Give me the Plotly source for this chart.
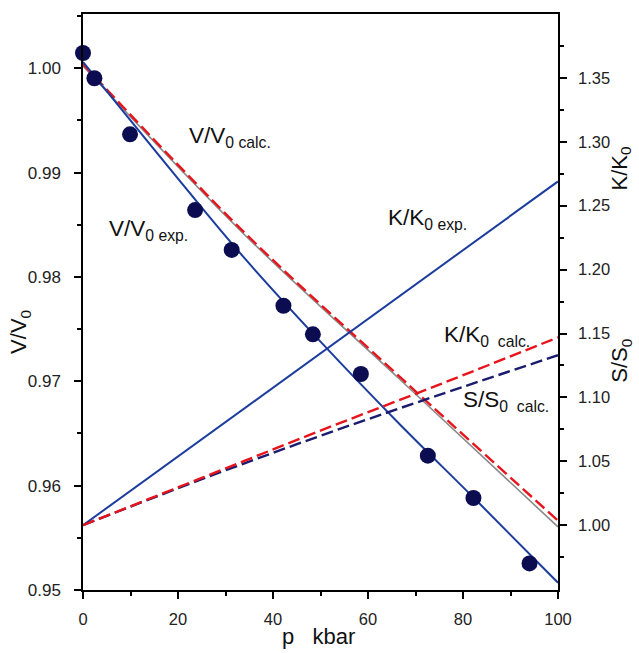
import plotly.graph_objects as go

# Experimental points V/V0 vs p (kbar)
p_exp = [0.0, 2.4, 9.9, 23.6, 31.3, 42.2, 48.4, 58.5, 72.6, 82.2, 94.0]
v_exp = [1.00146, 0.99904, 0.99367, 0.98641, 0.98259, 0.97724, 0.97450, 0.97070, 0.96287, 0.95882, 0.95255]

# Fitted experimental V/V0 curve
p_fit = [0, 24, 34, 50, 66, 83, 100]
v_exp_fit = [1.0006, 0.9872, 0.9818, 0.9738, 0.9662, 0.9585, 0.9507]

# Calculated V/V0 curves
p_vcalc = [0, 34, 67, 100]
v_calc_gray = [1.0002, 0.98405, 0.97005, 0.95605]
v_calc_red = [1.0004, 0.98425, 0.97030, 0.95665]

# K/K0 experimental (right axis)
p_line = [0, 100]
k_exp = [1.000, 1.269]

# K/K0 and S/S0 calculated (right axis)
p_calc = [0, 25, 50, 75, 100]
k_calc = [1.000, 1.037, 1.074, 1.110, 1.147]
s_calc = [1.000, 1.036, 1.070, 1.102, 1.133]

x_ticks = [0, 20, 40, 60, 80, 100]
y_ticks = [0.95, 0.96, 0.97, 0.98, 0.99, 1.00]
y2_ticks = [1.00, 1.05, 1.10, 1.15, 1.20, 1.25, 1.30, 1.35]
y2_minor = [0.975, 1.025, 1.075, 1.125, 1.175, 1.225, 1.275, 1.325, 1.375]

BLUE = "#1c3d9e"
NAVY = "#0c0c50"
RED = "#e8141c"
NAVY_D = "#1b1b70"
GRAY = "#8a8a8a"
FONT = "Liberation Sans, Arial, sans-serif"
DASH = "12px,5px"

fig = go.Figure()
fig.add_trace(go.Scatter(x=p_vcalc, y=v_calc_gray, mode="lines",
                         line=dict(color=GRAY, width=1.6, shape="spline"), yaxis="y"))
fig.add_trace(go.Scatter(x=p_vcalc, y=v_calc_red, mode="lines",
                         line=dict(color=RED, width=2.4, dash=DASH, shape="spline"), yaxis="y"))
fig.add_trace(go.Scatter(x=p_fit, y=v_exp_fit, mode="lines",
                         line=dict(color=BLUE, width=2, shape="spline"), yaxis="y"))
fig.add_trace(go.Scatter(x=p_line, y=k_exp, mode="lines",
                         line=dict(color=BLUE, width=2), yaxis="y2"))
fig.add_trace(go.Scatter(x=p_calc, y=s_calc, mode="lines",
                         line=dict(color=NAVY_D, width=2.4, dash=DASH, shape="spline"), yaxis="y2"))
fig.add_trace(go.Scatter(x=p_calc, y=k_calc, mode="lines",
                         line=dict(color=RED, width=2.4, dash=DASH, shape="spline"), yaxis="y2"))
fig.add_trace(go.Scatter(x=p_exp, y=v_exp, mode="markers",
                         marker=dict(color=NAVY, size=16), yaxis="y", cliponaxis=False))

W, H = 639, 653
L, R, T, B = 83, 558, 12, 590

def px(xp, yp):
    return (xp - L) / (R - L), (B - yp) / (B - T)

annots = []
def lab(text, x, y, size=22.5):
    annots.append(dict(text=text, x=x, y=y, xref="x", yref="y", showarrow=False,
                       xanchor="left", yanchor="middle",
                       font=dict(size=size, color="#111", family=FONT)))

lab("V/V<sub>0 calc.</sub>", 21.8, 0.99342)
lab("V/V<sub>0 exp.</sub>", 5.0, 0.98454)
lab("K/K<sub>0 exp.</sub>", 63.8, 0.98559)
lab("K/K<sub>0&nbsp; calc.</sub>", 75.5, 0.97433)
lab("S/S<sub>0&nbsp; calc.</sub>", 79.6, 0.96813)

def title(text, xp, yp, angle=0):
    x, y = px(xp, yp)
    annots.append(dict(text=text, x=x, y=y, xref="paper", yref="paper", showarrow=False,
                       xanchor="center", yanchor="middle", textangle=angle,
                       font=dict(size=22, color="#111", family=FONT)))

title("V/V<sub>0</sub>", 20, 331, -90)
title("K/K<sub>0</sub>", 621, 167, -90)
title("S/S<sub>0</sub>", 621, 360, -90)
title("p&nbsp;&nbsp;&nbsp;kbar", 318, 637)

axis_common = dict(showline=True, linecolor="black", linewidth=1.5, ticks="outside",
                   ticklen=7, tickwidth=1.5, tickcolor="black", showgrid=False, zeroline=False)

fig.update_layout(
    width=W, height=H,
    margin=dict(l=L, r=W - R, t=T, b=H - B),
    paper_bgcolor="white", plot_bgcolor="white",
    showlegend=False,
    xaxis=dict(range=[0, 100], tickvals=x_ticks, mirror=True, ticklabelstandoff=6,
               tickfont=dict(size=16.5, color="#222", family=FONT),
               minor=dict(dtick=10, tick0=0, ticks="outside", ticklen=4, tickwidth=1.5,
                          tickcolor="black", showgrid=False),
               **axis_common),
    yaxis=dict(range=[0.95, 1.0052], tickvals=y_ticks, tickformat=".2f", ticklabelstandoff=10,
               tickfont=dict(size=17, color="#222", family=FONT),
               minor=dict(dtick=0.005, tick0=0.95, ticks="outside", ticklen=4, tickwidth=1.5,
                          tickcolor="black", showgrid=False),
               **axis_common),
    yaxis2=dict(range=[0.9493, 1.40], overlaying="y", side="right", tickvals=y2_ticks,
                tickformat=".2f", ticklabelstandoff=8,
                tickfont=dict(size=16.5, color="#222", family=FONT),
                minor=dict(tickvals=y2_minor, ticks="outside", ticklen=4, tickwidth=1.5,
                           tickcolor="black", showgrid=False),
                **axis_common),
    annotations=annots,
)

fig.write_html("out.html")
